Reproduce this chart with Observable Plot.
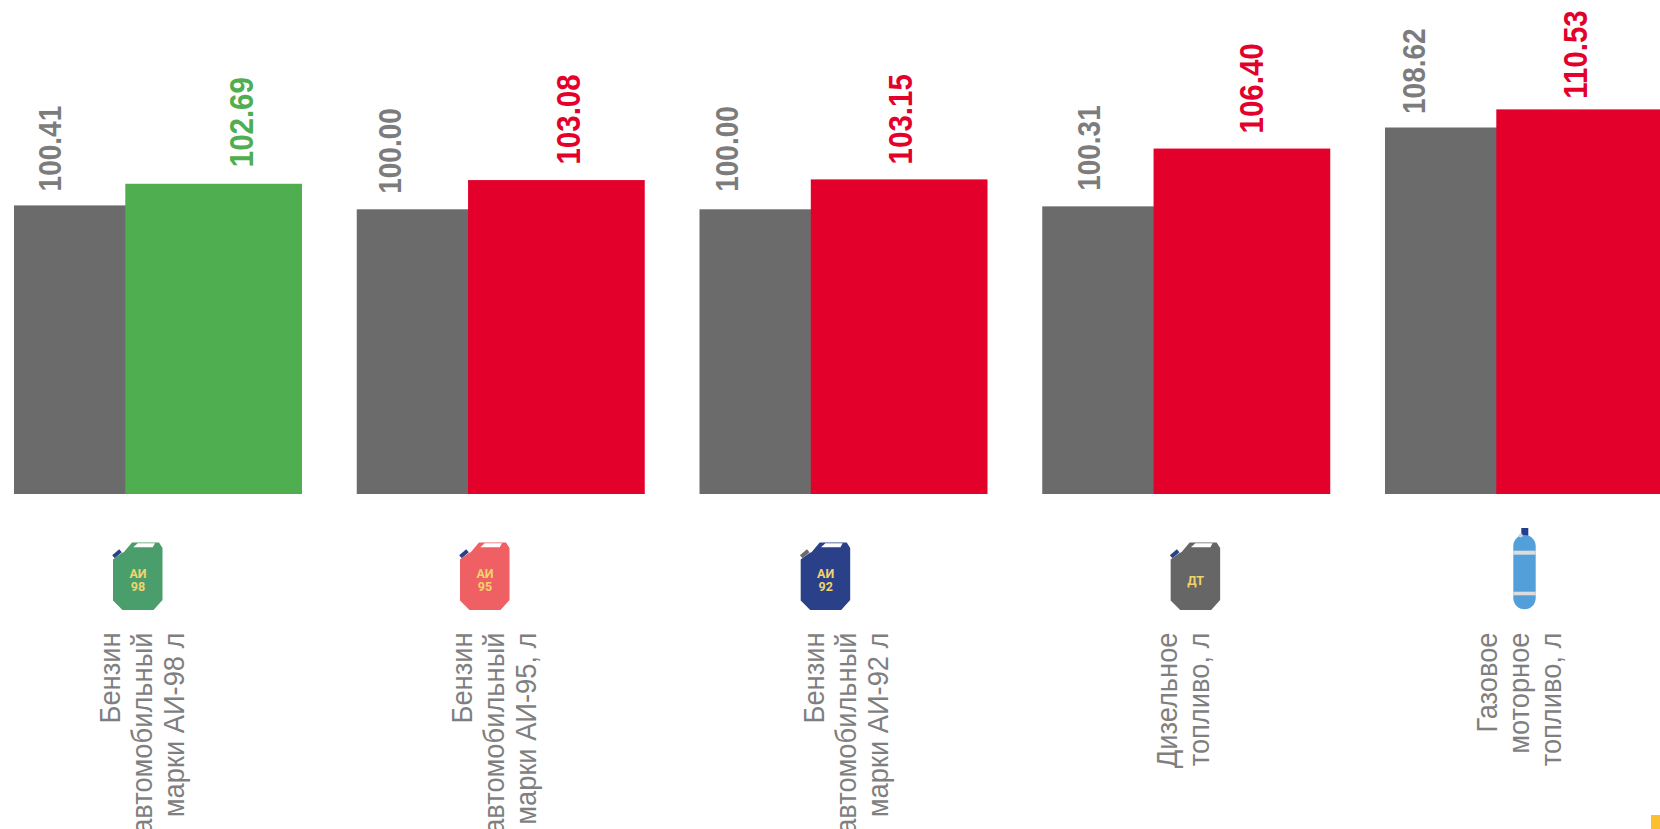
<!DOCTYPE html>
<html lang="ru">
<head>
<meta charset="utf-8">
<style>
html,body{margin:0;padding:0;background:#fff;width:1660px;height:829px;overflow:hidden}
svg{display:block}
</style>
<script src="https://cdn.jsdelivr.net/npm/d3@7"></script>
<script src="https://cdn.jsdelivr.net/npm/@observablehq/plot@0.6"></script>
</head>
<body>
<div id="chart"></div>
<script>
// Data
const categories = [
  "Бензин\nавтомобильный\nмарки АИ-98 л",
  "Бензин\nавтомобильный\nмарки АИ-95, л",
  "Бензин\nавтомобильный\nмарки АИ-92 л",
  "Дизельное\nтопливо, л",
  "Газовое\nмоторное\nтопливо, л"
];
const previousValues = [100.41, 100.00, 100.00, 100.31, 108.62];
const currentValues  = [102.69, 103.08, 103.15, 106.40, 110.53];
const iconTexts = ["АИ\n98", "АИ\n95", "АИ\n92", "ДТ", ""];

// Styles
const currentColors = ["#4fae50", "#e3002b", "#e3002b", "#e3002b", "#e3002b"];
const previousColor = "#6b6b6b";
const previousLabelColor = "#7c7c7c";
const categoryColor = "#7f7f7f";
const iconColors = ["#4a9e6b", "#ee6064", "#2a4189", "#666666", "#529fd9"];
const capColors = ["#2a4189", "#2a4189", "#6b6b6b", "#2a4189", "#23408e"];

// Layout
const base = 70;
const step = 342.75, grayWidth = 111.3, fullWidth = 288;
const prevLabelX = [36, 33.25, 28, 47.25, 29];
const prevLabelGap = [14.5, 16, 18, 16, 14];
const currLabelX = [228.5, 212.75, 201.5, 210.25, 191.5];
const currLabelGap = [17, 16, 15.5, 15.6, 11];
const catBaseline = [138, 147.25, 156.5, 150.5, 144];
const iconX = [99, 103.25, 101.2, 128.4, 128.3];
const half = step / 2;
const catSize = 27.3, catStretch = 1.1;
const prevStretch = 1.14, currStretch = 1.1;

const rows = categories.map((category, i) => ({
  category, i,
  previous: previousValues[i],
  current: currentValues[i],
  color: currentColors[i]
}));

function icons(index, {x}) {
  const g = d3.create("svg:g");
  rows.forEach((d, i) => {
    const left = x(d.category) + iconX[i];
    if (i < 4) {
      const n = g.append("g").attr("transform", `translate(${left},541)`);
      n.append("path").attr("d", "M0.5,15.8L7.5,9.8").attr("stroke", capColors[i]).attr("stroke-width", 4).attr("fill", "none");
      n.append("path").attr("d", "M0,18.5L8,12.5L11,11L19,1.5L46,1.5L49.5,7V59L40.5,69H9.5L0,59.5Z").attr("fill", iconColors[i]);
      n.append("path").attr("d", "M20.3,6.3L24.7,2.3H42L39.7,6.3Z").attr("fill", "#fff");
    } else {
      const n = g.append("g").attr("transform", `translate(${left},528)`);
      n.append("rect").attr("x", 8).attr("width", 7).attr("height", 10).attr("fill", capColors[i]);
      n.append("rect").attr("y", 7).attr("width", 22.4).attr("height", 74.3).attr("rx", 11.2).attr("fill", iconColors[i]);
      n.append("rect").attr("y", 22.7).attr("width", 22.4).attr("height", 4).attr("fill", "#dcdcdc");
      n.append("rect").attr("y", 63.7).attr("width", 22.4).attr("height", 3.6).attr("fill", "#dcdcdc");
      n.append("circle").attr("cx", 7.5).attr("cy", 7.5).attr("r", 2).attr("fill", "#c9d3ea");
    }
  });
  g.append("rect").attr("x", 1651).attr("y", 815).attr("width", 9).attr("height", 14).attr("fill", "#fcbf2d");
  return g.node();
}

const valueLabels = rows.flatMap((d, i) => [
  Plot.text([d], {
    x: "category", y: "previous", text: r => r.previous.toFixed(2),
    dx: prevLabelX[i] - half, dy: -prevLabelGap[i], rotate: -90,
    textAnchor: "start", lineAnchor: "middle",
    fill: previousLabelColor, fontSize: 28, fontWeight: "bold",
    className: "prev"
  }),
  Plot.text([d], {
    x: "category", y: "current", text: r => r.current.toFixed(2),
    dx: currLabelX[i] - half, dy: -currLabelGap[i], rotate: -90,
    textAnchor: "start", lineAnchor: "middle",
    fill: "color", fontSize: 29.5, fontWeight: "bold",
    className: "curr"
  })
]);

const categoryLabels = rows.map((d, i) =>
  Plot.text([d], {
    x: "category", text: "category", frameAnchor: "top", dy: 632,
    dx: catBaseline[i] - half - 10.5, rotate: -90,
    textAnchor: "end", lineAnchor: "middle", lineHeight: 32 / catStretch / catSize,
    fill: categoryColor, fontSize: catSize,
    className: "cat"
  })
);

const iconLabels = rows.filter(d => iconTexts[d.i]).map(d =>
  Plot.text([d], {
    x: "category", text: r => iconTexts[r.i], frameAnchor: "top", dy: 580,
    dx: iconX[d.i] + 24.5 - half, lineAnchor: "middle", lineHeight: 1,
    fill: "#f2d36b", fontSize: 12.5, fontWeight: "bold", fontFamily: "Roboto, sans-serif"
  })
);

const plot = Plot.plot({
  width: 1660,
  height: 829,
  margin: 0,
  style: {fontFamily: "'Liberation Sans', Arial, sans-serif", background: "#fff", overflow: "hidden"},
  x: {type: "band", domain: categories, range: [14, 14 + step * categories.length], padding: 0, align: 0, round: false, axis: null},
  y: {domain: [base, base + 494 / 9.49], range: [494, 0], axis: null},
  marks: [
    Plot.barY(rows, {x: "category", y1: () => base, y2: "previous", fill: previousColor, insetRight: step - grayWidth - 1}),
    Plot.barY(rows, {x: "category", y1: () => base, y2: "current", fill: "color", insetLeft: grayWidth, insetRight: step - fullWidth}),
    ...valueLabels,
    icons,
    ...iconLabels,
    ...categoryLabels
  ]
});
// The reference's rotated type is stretched across its line direction.
[["prev", prevStretch], ["curr", currStretch], ["cat", catStretch]].forEach(([cls, s]) => {
  plot.querySelectorAll(`.${cls} text, text.${cls}`).forEach(t => {
    t.setAttribute("transform", `${t.getAttribute("transform") || ""} scale(1,${s})`);
  });
});
document.getElementById("chart").append(plot);
</script>
</body>
</html>
